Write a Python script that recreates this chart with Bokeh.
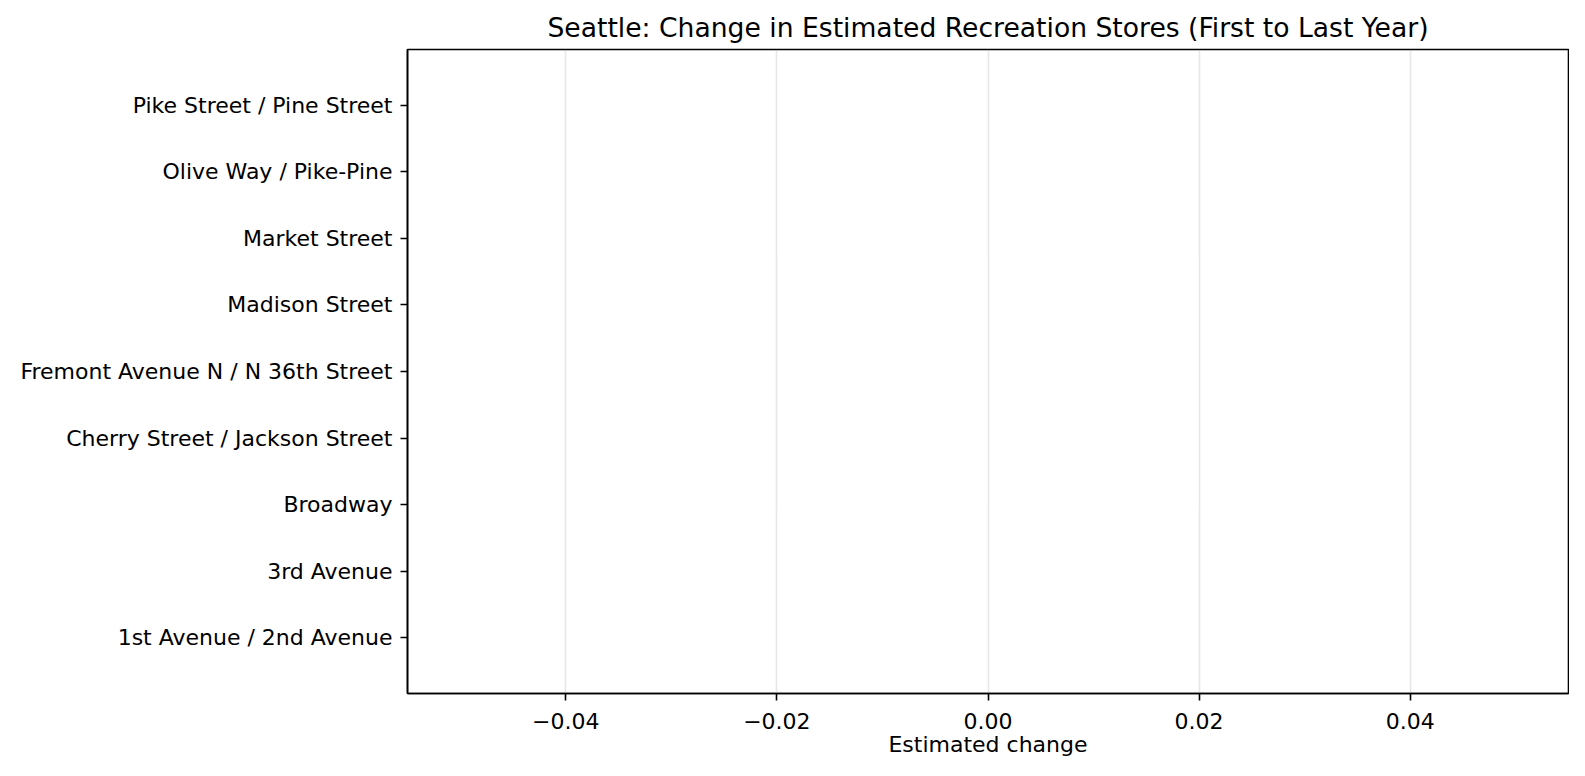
from bokeh.plotting import figure
from bokeh.models import Range1d, FixedTicker, CustomJSTickFormatter, ColumnDataSource
from bokeh.embed import file_html
from bokeh.resources import INLINE

categories = [
    "1st Avenue / 2nd Avenue",
    "3rd Avenue",
    "Broadway",
    "Cherry Street / Jackson Street",
    "Fremont Avenue N / N 36th Street",
    "Madison Street",
    "Market Street",
    "Olive Way / Pike-Pine",
    "Pike Street / Pine Street",
]
changes = [0, 0, 0, 0, 0, 0, 0, 0, 0]
x_ticks = [-0.04, -0.02, 0.0, 0.02, 0.04]

FONT = "DejaVu Sans"
LABEL_SIZE = "22px"

ypos = list(range(len(categories)))
src = ColumnDataSource(dict(y=ypos, left=[0] * len(changes), right=changes, name=categories))

p = figure(
    width=1569, height=760,
    output_backend="svg", toolbar_location=None,
    x_range=Range1d(-0.055, 0.055),
    y_range=Range1d(-0.84, len(categories) - 1 + 0.84),
    min_border_left=407, min_border_right=1, min_border_top=49, min_border_bottom=67,
    title="Seattle: Change in Estimated Recreation Stores (First to Last Year)",
)
p.hbar(y="y", left="left", right="right", height=0.8, source=src,
       fill_color="#1f77b4", line_color=None)

p.title.text_font = FONT
p.title.text_font_size = "26.6px"
p.title.text_font_style = "normal"
p.title.text_color = "black"
p.title.align = "center"
p.title.standoff = 13

p.outline_line_color = "black"
p.outline_line_width = 1.6
p.outline_line_alpha = 1.0

# x axis
xa = p.xaxis[0]
xa.ticker = FixedTicker(ticks=x_ticks)
xa.formatter = CustomJSTickFormatter(code="return tick.toFixed(2).replace('-', '\u2212');")
xa.axis_label = "Estimated change"
xa.axis_label_text_font = FONT
xa.axis_label_text_font_size = LABEL_SIZE
xa.axis_label_text_font_style = "normal"
xa.axis_label_text_color = "black"
xa.axis_label_standoff = 0
xa.major_label_text_font = FONT
xa.major_label_text_font_size = LABEL_SIZE
xa.major_label_text_color = "black"
xa.major_label_standoff = 12
xa.minor_tick_line_color = None
xa.major_tick_in = 0
xa.major_tick_out = 7
xa.major_tick_line_width = 1.6
xa.major_tick_line_color = "black"
xa.axis_line_color = "black"
xa.axis_line_width = 1.6

# y axis
ya = p.yaxis[0]
ya.ticker = FixedTicker(ticks=ypos)
ya.major_label_overrides = {i: c for i, c in enumerate(categories)}
ya.major_label_text_font = FONT
ya.major_label_text_font_size = LABEL_SIZE
ya.major_label_text_color = "black"
ya.major_label_standoff = 8
ya.minor_tick_line_color = None
ya.major_tick_in = 0
ya.major_tick_out = 7
ya.major_tick_line_width = 1.6
ya.major_tick_line_color = "black"
ya.axis_line_color = "black"
ya.axis_line_width = 1.6

p.xgrid.grid_line_color = "#b0b0b0"
p.xgrid.grid_line_alpha = 0.3
p.xgrid.grid_line_width = 1.6
p.ygrid.grid_line_color = None

open("out.html", "w").write(file_html(p, INLINE))
